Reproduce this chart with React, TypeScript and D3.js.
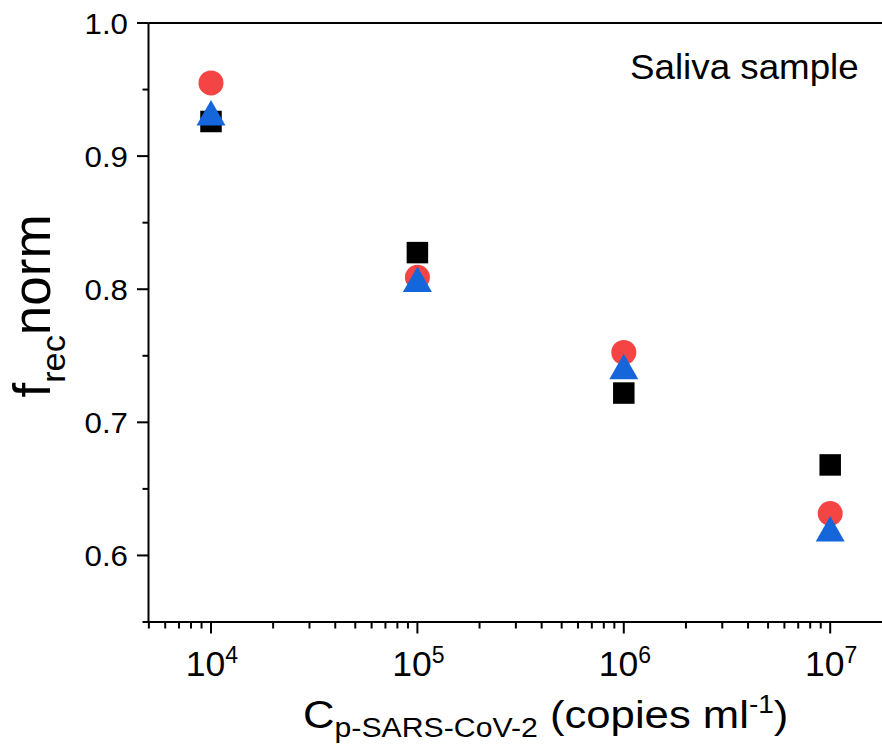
import React from "react";
import * as d3 from "d3";

const CONCENTRATIONS = [1e4, 1e5, 1e6, 1e7];
const SERIES_SQUARE = [0.926, 0.8275, 0.722, 0.668];
const SERIES_CIRCLE = [0.955, 0.809, 0.7525, 0.6315];
const SERIES_TRIANGLE = [0.9325, 0.8075, 0.742, 0.62];
const Y_MAJOR_TICKS = [0.6, 0.7, 0.8, 0.9, 1.0];
const Y_MINOR_TICKS = [0.55, 0.65, 0.75, 0.85, 0.95];
const X_TICK_EXPONENTS = [4, 5, 6, 7];
const ANNOTATION = "Saliva sample";

const W = 882;
const H = 746;
const FONT = "'Liberation Sans', Arial, Helvetica, sans-serif";

export default function App() {
  const left = 148.5;
  const top = 23;
  const bottom = 622;
  const decade = 206.4;
  const x = d3
    .scaleLog()
    .domain([5000, 2e7])
    .range([211 - Math.log10(2) * decade, 211 + Math.log10(2000) * decade]);
  const y = d3.scaleLinear().domain([0.55, 1.0]).range([bottom, top]);

  const minorX: number[] = [];
  for (let e = 3; e <= 7; e++) {
    for (let m = 2; m <= 9; m++) {
      const v = m * Math.pow(10, e);
      if (v >= 5000 && x(v) <= W) minorX.push(v);
    }
  }

  const sq = 21.5;
  const circleR = 12.5;
  const triW = 29;
  const triH = 25.5;
  const triPath = `M0,${-triH / 2}L${triW / 2},${triH / 2}L${-triW / 2},${triH / 2}Z`;

  return (
    <svg
      width={W}
      height={H}
      style={{ position: "absolute", left: 0, top: 0, background: "#fff" }}
      fontFamily={FONT}
    >
      <rect width={W} height={H} fill="#fff" />
      {/* axes */}
      <g stroke="#000" strokeWidth={2} fill="none">
        <line x1={left} y1={top} x2={left} y2={bottom + 1} />
        <line x1={left - 1} y1={bottom} x2={W} y2={bottom} />
        <line x1={left} y1={top} x2={W} y2={top} />
        {Y_MAJOR_TICKS.map((t) => (
          <line key={"ym" + t} x1={left - 11.5} x2={left} y1={y(t)} y2={y(t)} />
        ))}
        {Y_MINOR_TICKS.map((t) => (
          <line key={"yn" + t} x1={left - 6} x2={left} y1={y(t)} y2={y(t)} />
        ))}
        {X_TICK_EXPONENTS.map((e) => (
          <line key={"xm" + e} x1={x(Math.pow(10, e))} x2={x(Math.pow(10, e))} y1={bottom} y2={bottom + 11.5} />
        ))}
        {minorX.map((v) => (
          <line key={"xn" + v} x1={x(v)} x2={x(v)} y1={bottom} y2={bottom + 6.5} />
        ))}
      </g>
      {/* y tick labels */}
      {Y_MAJOR_TICKS.map((t) => (
        <text
          key={"yl" + t}
          transform={`translate(128,${y(t)}) scale(1.06,1)`}
          dy="0.36em"
          textAnchor="end"
          fontSize={29.5}
          fill="#000"
        >
          {t.toFixed(1)}
        </text>
      ))}
      {/* x tick labels */}
      {X_TICK_EXPONENTS.map((e) => (
        <text key={"xl" + e} x={x(Math.pow(10, e)) + 1} y={676} textAnchor="middle" fontSize={35.5} fill="#000">
          10
          <tspan fontSize={23} dy={-13}>
            {e}
          </tspan>
        </text>
      ))}
      {/* y axis title */}
      <text transform="translate(50,306) rotate(-90) scale(1.04,1)" textAnchor="middle" fontSize={51} fill="#000">
        f
        <tspan fontSize={33} dy={15}>
          rec
        </tspan>
        <tspan dy={-15}>norm</tspan>
      </text>
      {/* x axis title */}
      <text transform="translate(303,728) scale(1.12,1)" fontSize={39} fill="#000">
        C
        <tspan fontSize={27} dy={9}>
          p-SARS-CoV-2
        </tspan>
        <tspan dy={-9}> (copies ml</tspan>
        <tspan fontSize={25} dy={-15}>
          -1
        </tspan>
        <tspan dy={15}>)</tspan>
      </text>
      {/* annotation */}
      <text transform="translate(630,79) scale(1.05,1)" fontSize={35} fill="#000">
        {ANNOTATION}
      </text>
      {/* data */}
      {CONCENTRATIONS.map((c, i) => (
        <rect
          key={"s" + i}
          x={x(c) - sq / 2}
          y={y(SERIES_SQUARE[i]) - sq / 2}
          width={sq}
          height={sq}
          fill="#000"
        />
      ))}
      {CONCENTRATIONS.map((c, i) => (
        <circle key={"c" + i} cx={x(c)} cy={y(SERIES_CIRCLE[i])} r={circleR} fill="#F44444" />
      ))}
      {CONCENTRATIONS.map((c, i) => (
        <path
          key={"t" + i}
          transform={`translate(${x(c)},${y(SERIES_TRIANGLE[i])})`}
          d={triPath}
          fill="#1666DB"
        />
      ))}
    </svg>
  );
}
